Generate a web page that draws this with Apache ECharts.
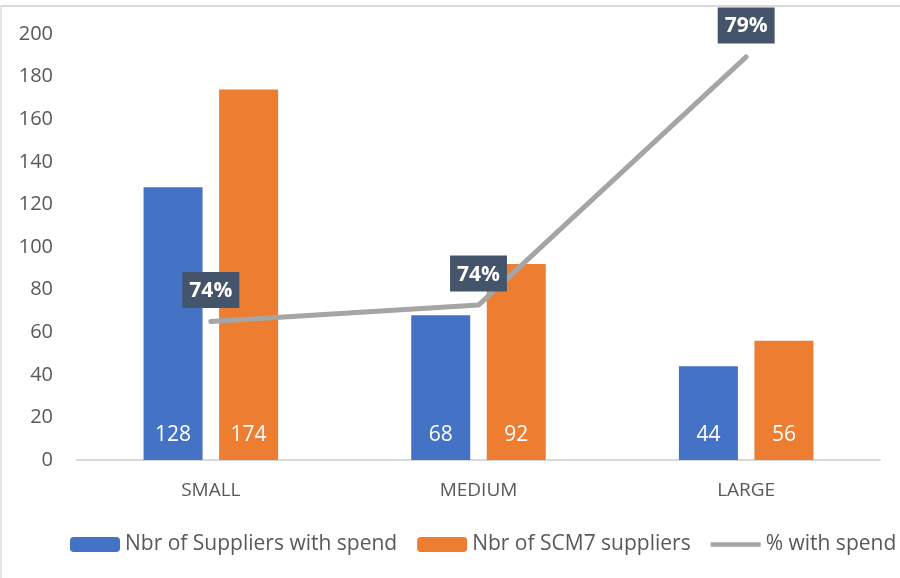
<!DOCTYPE html>
<html>
<head>
<meta charset="utf-8">
<script src="https://cdn.jsdelivr.net/npm/echarts@6/dist/echarts.min.js"></script>
<style>
html, body { margin: 0; padding: 0; background: #fff; }
.frame {
  position: absolute; left: 0; top: 5px; width: 898px; height: 573px;
  border-top: 2px solid #d9d9d9; border-left: 2px solid #e6e6e6;
}
#chart { position: absolute; left: 0; top: 0; width: 900px; height: 578px; }
</style>
</head>
<body>
<div class="frame"></div>
<div id="chart"></div>
<script>
var categories = ['SMALL', 'MEDIUM', 'LARGE']
var withSpend = [128, 68, 44]
var scm7Suppliers = [174, 92, 56]
var pctWithSpend = [0.7360, 0.7391, 0.7857]
var pctLabels = ['74%', '74%', '79%']

var font = '"Open Sans", "Noto Sans", sans-serif'
var chart = echarts.init(document.getElementById('chart'))
var option = {
  textStyle: { fontFamily: font },
  animation: false,
  grid: { left: 77, right: 20, top: 34, bottom: 118 },
  legend: {
    left: 70, top: 534, padding: 0,
    itemWidth: 50, itemHeight: 15, itemGap: 20,
    textStyle: { fontSize: 21, color: '#595959', fontFamily: font },
    data: [
      'Nbr of Suppliers with spend',
      'Nbr of SCM7 suppliers',
      { name: '% with spend', icon: 'path://M0,0 L54,0 L54,5 L0,5 Z' }
    ]
  },
  xAxis: {
    type: 'category',
    data: categories,
    axisTick: { show: false },
    axisLine: { lineStyle: { color: '#d9d9d9', width: 2 } },
    axisLabel: { fontSize: 19, color: '#595959', margin: 21 }
  },
  yAxis: [{
    type: 'value',
    min: 0, max: 200, interval: 20,
    splitLine: { show: false },
    axisLine: { show: false },
    axisTick: { show: false },
    axisLabel: { fontSize: 20, color: '#595959', margin: 24 }
  }, {
    type: 'value',
    min: 0.71, max: 0.79,
    show: false
  }],
  series: [{
    name: 'Nbr of Suppliers with spend',
    type: 'bar',
    data: withSpend,
    barWidth: 59,
    barGap: '28%',
    itemStyle: { color: '#4472c4' },
    label: { show: true, position: 'insideBottom', distance: 14, color: '#fff', fontSize: 21 }
  }, {
    name: 'Nbr of SCM7 suppliers',
    type: 'bar',
    data: scm7Suppliers,
    barWidth: 59,
    itemStyle: { color: '#ed7d31' },
    label: { show: true, position: 'insideBottom', distance: 14, color: '#fff', fontSize: 21 }
  }, {
    name: '% with spend',
    type: 'line',
    yAxisIndex: 1,
    data: pctWithSpend,
    symbol: 'circle',
    symbolSize: 1,
    showSymbol: true,
    itemStyle: { color: '#a5a5a5' },
    lineStyle: { color: '#a5a5a5', width: 5, cap: 'round' },
    label: {
      show: true,
      position: 'top',
      distance: 13,
      formatter: function (p) { return pctLabels[p.dataIndex] },
      backgroundColor: '#44546a',
      color: '#fff',
      fontWeight: 'bold',
      fontSize: 21,
      lineHeight: 22,
      padding: [8, 7, 6, 7]
    }
  }]
}
chart.setOption(option)
</script>
</body>
</html>
